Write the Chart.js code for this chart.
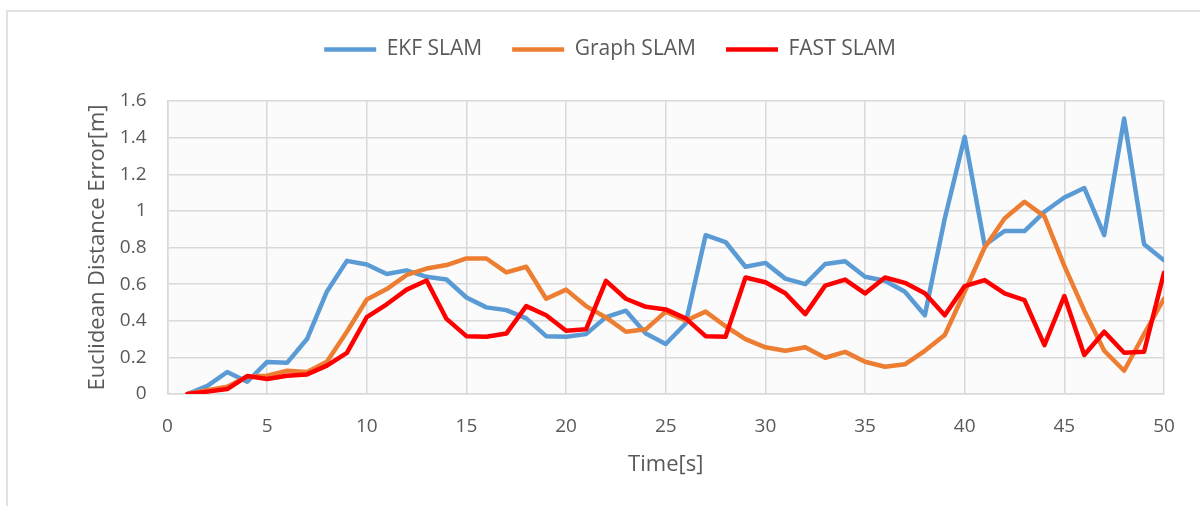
<!DOCTYPE html>
<html>
<head>
<meta charset="utf-8">
<script src="https://cdn.jsdelivr.net/npm/chart.js@4/dist/chart.umd.min.js"></script>
<style>
  html, body { margin: 0; padding: 0; background: #fff; overflow: hidden; }
  #frame { position: absolute; left: 6px; top: 10px; width: 1300px; height: 600px; border: 2px solid #e2e2e2; }
  #wrap { position: absolute; left: 0; top: 0; width: 1200px; height: 506px; }
</style>
</head>
<body>
<div id="frame"></div>
<div id="wrap"><canvas id="chart"></canvas></div>
<script>
const time = [1, 2, 3, 4, 5, 6, 7, 8, 9, 10, 11, 12, 13, 14, 15, 16, 17, 18, 19, 20,
  21, 22, 23, 24, 25, 26, 27, 28, 29, 30, 31, 32, 33, 34, 35, 36, 37, 38, 39, 40,
  41, 42, 43, 44, 45, 46, 47, 48, 49, 50]

const ekf = [0, 0.044, 0.12, 0.067, 0.175, 0.17, 0.30, 0.56, 0.727, 0.707,
  0.655, 0.675, 0.64, 0.625, 0.527, 0.473, 0.458, 0.413, 0.316, 0.313,
  0.327, 0.42, 0.455, 0.33, 0.273, 0.385, 0.867, 0.83, 0.695, 0.716,
  0.63, 0.60, 0.71, 0.725, 0.64, 0.618, 0.558, 0.43, 0.958, 1.404,
  0.813, 0.89, 0.89, 0.995, 1.073, 1.125, 0.867, 1.504, 0.818, 0.73]

const graph = [0, 0.02, 0.04, 0.095, 0.10, 0.127, 0.12, 0.176, 0.34, 0.516,
  0.573, 0.65, 0.685, 0.704, 0.74, 0.74, 0.664, 0.695, 0.52, 0.57,
  0.48, 0.418, 0.34, 0.353, 0.45, 0.40, 0.45, 0.37, 0.30, 0.255,
  0.236, 0.255, 0.198, 0.23, 0.176, 0.149, 0.162, 0.236, 0.322, 0.558,
  0.80, 0.958, 1.05, 0.97, 0.70, 0.455, 0.236, 0.127, 0.327, 0.52]

const fast = [0, 0.013, 0.027, 0.098, 0.082, 0.10, 0.107, 0.155, 0.225, 0.42,
  0.49, 0.57, 0.62, 0.41, 0.316, 0.313, 0.33, 0.48, 0.43, 0.345,
  0.353, 0.618, 0.52, 0.476, 0.462, 0.413, 0.316, 0.313, 0.636, 0.61,
  0.55, 0.436, 0.592, 0.625, 0.549, 0.636, 0.607, 0.55, 0.43, 0.589,
  0.622, 0.549, 0.513, 0.267, 0.535, 0.213, 0.34, 0.225, 0.231, 0.662]

const FONT = "'Open Sans', 'Noto Sans', sans-serif"
const TEXT = '#595959'
const GRID = '#d9d9d9'

const toPoints = (ys) => ys.map((y, i) => ({ x: time[i], y }))

const line = (label, data, color, order) => ({
  label,
  data: toPoints(data),
  borderColor: color,
  backgroundColor: color,
  borderWidth: 4.5,
  borderCapStyle: 'round',
  borderJoinStyle: 'round',
  pointRadius: 0,
  tension: 0,
  order,
})

// fixed legend height so the plot starts where the reference does
const legendHeight = {
  id: 'legendHeight',
  beforeInit(chart) {
    const fit = chart.legend.fit
    chart.legend.fit = function () {
      fit.bind(chart.legend)()
      this.height = 92
    }
  }
}

const plotBg = {
  id: 'plotBg',
  beforeDraw(chart) {
    const { ctx, chartArea: a } = chart
    ctx.save()
    ctx.fillStyle = '#fbfbfb'
    ctx.fillRect(a.left, a.top, a.right - a.left, a.bottom - a.top)
    ctx.restore()
  }
}

new Chart(document.getElementById('chart'), {
  type: 'line',
  data: {
    datasets: [
      line('EKF SLAM', ekf, '#5b9bd5', 3),
      line('Graph SLAM', graph, '#ed7d31', 2),
      line('FAST SLAM', fast, '#ff0000', 1),
    ]
  },
  options: {
    responsive: true,
    maintainAspectRatio: false,
    animation: false,
    layout: { padding: { left: 56, right: 36, top: 9, bottom: 0 } },
    plugins: {
      tooltip: { enabled: false },
      legend: {
        position: 'top',
        labels: {
          usePointStyle: true,
          pointStyle: 'line',
          pointStyleWidth: 52,
          padding: 30,
          color: TEXT,
          font: { family: FONT, size: 21 },
          sort: (a, b) => a.datasetIndex - b.datasetIndex,
        }
      }
    },
    scales: {
      x: {
        type: 'linear',
        min: 0,
        max: 50,
        afterFit(scale) { scale.height = 112 },
        ticks: { stepSize: 5, padding: 21, color: TEXT, font: { family: FONT, size: 19 } },
        grid: { color: GRID, lineWidth: 1.5, drawTicks: false },
        border: { color: GRID, width: 1.5 },
        title: {
          display: true,
          text: 'Time[s]',
          color: TEXT,
          font: { family: FONT, size: 22 },
          padding: { top: 4, bottom: 28 }
        }
      },
      y: {
        min: 0,
        max: 1.6,
        afterFit(scale) { scale.width = 111.5 },
        ticks: {
          stepSize: 0.2,
          padding: 21,
          color: TEXT,
          font: { family: FONT, size: 19 },
          callback: (v) => String(Number(v.toFixed(1)))
        },
        grid: { color: GRID, lineWidth: 1.5, drawTicks: false },
        border: { color: GRID, width: 1.5 },
        title: {
          display: true,
          text: 'Euclidean Distance Error[m]',
          color: TEXT,
          font: { family: FONT, size: 22 },
          padding: { top: 29, bottom: 4 }
        }
      }
    }
  },
  plugins: [legendHeight, plotBg]
})
</script>
</body>
</html>
